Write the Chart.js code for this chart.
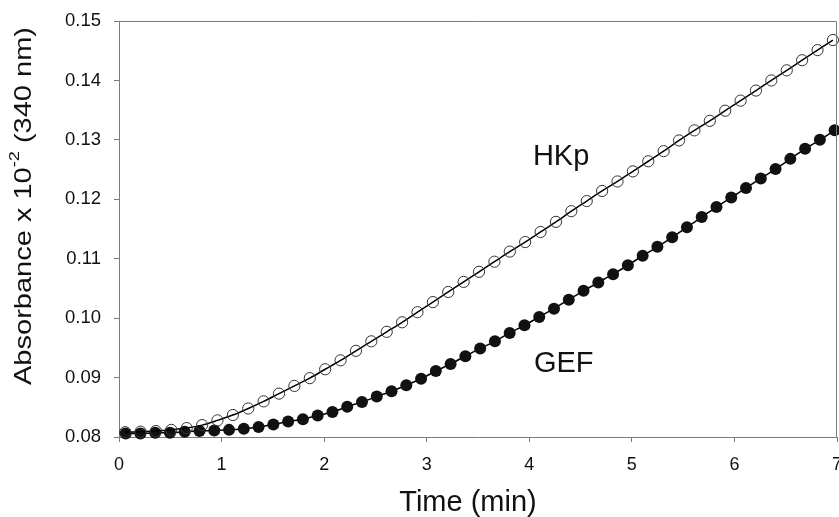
<!DOCTYPE html>
<html>
<head>
<meta charset="utf-8">
<script src="https://cdn.jsdelivr.net/npm/chart.js@4.4.1/dist/chart.umd.min.js"></script>
<style>
  html, body { margin: 0; padding: 0; background: #fff; }
</style>
</head>
<body>
<canvas id="absChart" width="839" height="517"></canvas>
<script>
// time in minutes, absorbance
const hkpTime = [0.06, 0.21, 0.36, 0.51, 0.66, 0.81, 0.96, 1.11, 1.26, 1.41, 1.56, 1.71, 1.86, 2.01, 2.16, 2.31,
  2.46, 2.61, 2.76, 2.91, 3.06, 3.21, 3.36, 3.51, 3.66, 3.81, 3.96, 4.11, 4.26, 4.41, 4.56, 4.71,
  4.86, 5.01, 5.16, 5.31, 5.46, 5.61, 5.76, 5.91, 6.06, 6.21, 6.36, 6.51, 6.66, 6.81, 6.96];
const hkpAbs = [0.0808, 0.0809, 0.0810, 0.0812, 0.0815, 0.0820, 0.0828, 0.0837, 0.0848, 0.0860, 0.0873, 0.0886,
  0.0899, 0.0914, 0.0929, 0.0945, 0.0961, 0.0977, 0.0993, 0.1010, 0.1027, 0.1044, 0.1061, 0.1078,
  0.1095, 0.1112, 0.1128, 0.1145, 0.1162, 0.1180, 0.1197, 0.1214, 0.1230, 0.1247, 0.1264, 0.1281,
  0.1299, 0.1316, 0.1332, 0.1349, 0.1366, 0.1383, 0.1400, 0.1417, 0.1434, 0.1451, 0.1468];

const gefTime = [0.065, 0.209, 0.353, 0.497, 0.641, 0.785, 0.929, 1.073, 1.217, 1.361, 1.505, 1.649, 1.793,
  1.937, 2.081, 2.225, 2.369, 2.513, 2.657, 2.801, 2.945, 3.089, 3.233, 3.377, 3.521, 3.665, 3.809,
  3.953, 4.097, 4.241, 4.385, 4.529, 4.673, 4.817, 4.961, 5.105, 5.249, 5.393, 5.537, 5.681, 5.825,
  5.969, 6.113, 6.257, 6.401, 6.545, 6.689, 6.833, 6.977];
const gefAbs = [0.0806, 0.0806, 0.0807, 0.0807, 0.0809, 0.0810, 0.0811, 0.0812, 0.0814, 0.0817, 0.0821, 0.0826,
  0.0830, 0.0836, 0.0842, 0.0851, 0.0859, 0.0868, 0.0877, 0.0887, 0.0898, 0.0911, 0.0923, 0.0936,
  0.0949, 0.0961, 0.0975, 0.0988, 0.1002, 0.1016, 0.1031, 0.1046, 0.1060, 0.1074, 0.1089, 0.1105,
  0.1120, 0.1136, 0.1153, 0.1170, 0.1187, 0.1203, 0.1219, 0.1235, 0.1251, 0.1268, 0.1285, 0.1300, 0.1316];

const xTicks = [0, 1, 2, 3, 4, 5, 6, 7];
const yTicks = [0.08, 0.09, 0.10, 0.11, 0.12, 0.13, 0.14, 0.15];
const seriesNames = ["HKp", "GEF"];

const FONT = "'Liberation Sans', Arial, sans-serif";
const axisColor = "#7a7a7a";
const textColor = "#111";

const toPoints = (xs, ys) => xs.map((x, i) => ({ x: x, y: ys[i] }));

const extras = {
  id: "extras",
  afterDraw(chart) {
    const { ctx, chartArea: a, scales } = chart;
    ctx.save();

    // box frame on top and right
    ctx.strokeStyle = axisColor;
    ctx.lineWidth = 1;
    ctx.beginPath();
    ctx.moveTo(a.left, a.top + 0.5);
    ctx.lineTo(a.right - 0.5, a.top + 0.5);
    ctx.lineTo(a.right - 0.5, a.bottom);
    ctx.stroke();

    // series labels
    ctx.fillStyle = textColor;
    ctx.font = "29px " + FONT;
    ctx.textAlign = "left";
    ctx.textBaseline = "alphabetic";
    ctx.fillText(seriesNames[0], scales.x.getPixelForValue(4.035), scales.y.getPixelForValue(0.1258));
    ctx.fillText(seriesNames[1], scales.x.getPixelForValue(4.045), scales.y.getPixelForValue(0.0909));

    // x axis title
    ctx.font = "29px " + FONT;
    ctx.textAlign = "center";
    ctx.fillText("Time (min)", 468, 511);

    // y axis title with superscript, stretched a little along its length
    const big = "24px " + FONT;
    const small = "15px " + FONT;
    const parts = [
      { t: "Absorbance x 10", f: big, dy: 0 },
      { t: "-2", f: small, dy: -9 },
      { t: " (340 nm)", f: big, dy: 0 },
    ];
    let total = 0;
    parts.forEach((p) => { ctx.font = p.f; p.w = ctx.measureText(p.t).width; total += p.w; });
    ctx.translate(24, 206);
    ctx.rotate(-Math.PI / 2);
    ctx.scale(358 / total, 1);
    ctx.textAlign = "left";
    ctx.textBaseline = "middle";
    let x = -total / 2;
    parts.forEach((p) => {
      ctx.font = p.f;
      ctx.fillText(p.t, x, p.dy);
      x += p.w;
    });
    ctx.restore();
  },
};

new Chart(document.getElementById("absChart").getContext("2d"), {
  type: "scatter",
  data: {
    datasets: [
      {
        label: seriesNames[0],
        data: toPoints(hkpTime, hkpAbs),
        showLine: true,
        borderColor: "#000",
        borderWidth: 1.5,
        cubicInterpolationMode: "monotone",
        pointRadius: 5.6,
        pointBorderWidth: 1,
        pointBorderColor: "#333",
        pointBackgroundColor: "rgba(0,0,0,0)",
        clip: false,
      },
      {
        label: seriesNames[1],
        data: toPoints(gefTime, gefAbs),
        showLine: true,
        borderColor: "#000",
        borderWidth: 1.5,
        cubicInterpolationMode: "monotone",
        pointRadius: 6,
        pointBorderWidth: 0,
        pointBackgroundColor: "#111",
        clip: false,
      },
    ],
  },
  options: {
    responsive: false,
    devicePixelRatio: 1,
    animation: false,
    layout: { autoPadding: false, padding: { top: 21, right: 2, left: 0, bottom: 0 } },
    plugins: {
      legend: { display: false },
      tooltip: { enabled: false },
    },
    scales: {
      x: {
        type: "linear",
        min: 0,
        max: 7,
        afterBuildTicks: (s) => { s.ticks = xTicks.map((v) => ({ value: v })); },
        afterFit: (s) => {
          s.height = 80;
          s.paddingLeft = 0;
          s.paddingRight = 0;
        },
        ticks: {
          color: textColor,
          font: { family: FONT, size: 18 },
          padding: 12,
          maxRotation: 0,
          callback: (v) => String(v),
        },
        border: { display: true, color: axisColor, width: 1 },
        grid: { drawOnChartArea: false, drawTicks: true, tickLength: 5, color: axisColor },
      },
      y: {
        type: "linear",
        min: 0.08,
        max: 0.15,
        afterBuildTicks: (s) => { s.ticks = yTicks.map((v) => ({ value: v })); },
        afterFit: (s) => {
          s.width = 119;
          s.paddingTop = 0;
          s.paddingBottom = 0;
        },
        ticks: {
          color: textColor,
          font: { family: FONT, size: 18.5 },
          padding: 13,
          callback: (v) => v.toFixed(2),
        },
        border: { display: true, color: axisColor, width: 1 },
        grid: { drawOnChartArea: false, drawTicks: true, tickLength: 5, color: axisColor },
      },
    },
  },
  plugins: [extras],
});
</script>
</body>
</html>
